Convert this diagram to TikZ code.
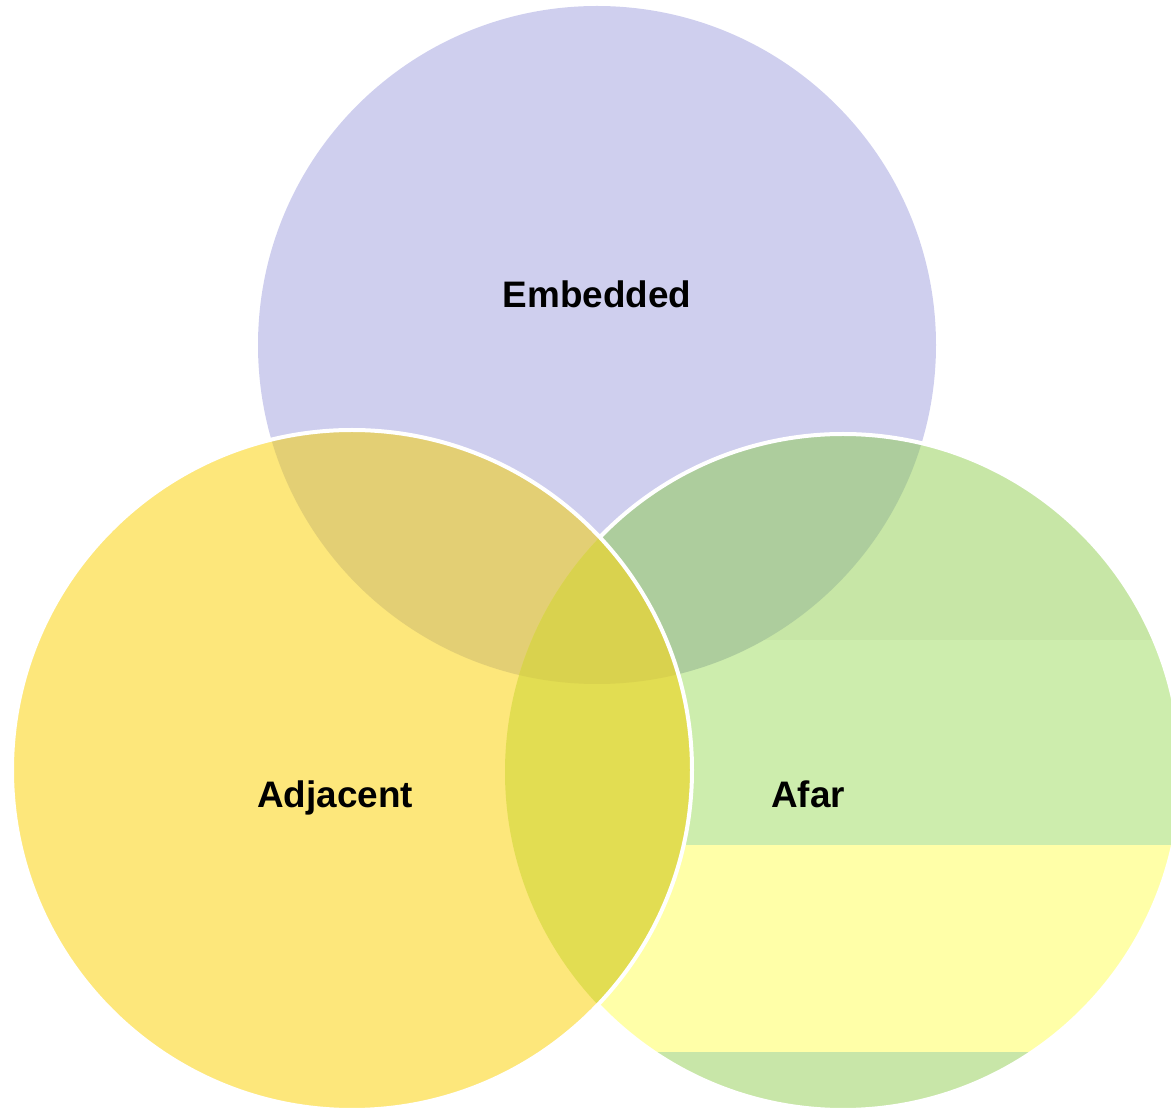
\documentclass[tikz,border=0pt]{standalone}
\usepackage{fontspec}
\setmainfont{Liberation Sans}
\usepackage{tikz}
\usetikzlibrary{positioning}

\definecolor{embfill}{HTML}{CFCFEE}
\definecolor{adjfill}{HTML}{FDE77B}
\definecolor{afartop}{HTML}{C7E6A6}
\definecolor{afarmid}{HTML}{CDEDAD}
\definecolor{afarband}{HTML}{FFFFA8}
\definecolor{afarlow}{HTML}{C8E6A8}
\definecolor{embadj}{HTML}{E3CF74}
\definecolor{embafar}{HTML}{ADCD9D}
\definecolor{adjafar}{HTML}{E2DD52}
\definecolor{allthree}{HTML}{D9D24E}

\begin{document}
\begin{tikzpicture}[x=0.02cm, y=0.02cm, label/.style={font=\fontsize{21}{25}\selectfont\bfseries, anchor=base, inner sep=0pt}, rim/.style={draw=white, line width=0.08cm}]
    \useasboundingbox (0,0) rectangle (1171,1110);

    %Centres
    \coordinate (emb) at (597,765);
    \coordinate (adj) at (352,340);
    \coordinate (afar) at (843,338);

    %Circles
    \fill[embfill] (emb) circle[radius=339];
    \begin{scope}
        \clip (afar) circle[radius=338];
        \fill[afarlow] (480,0) rectangle (1200,58);
        \fill[afarband] (480,58) rectangle (1200,265);
        \fill[afarmid] (480,265) rectangle (1200,470);
        \fill[afartop] (480,470) rectangle (1200,700);
        \clip (emb) circle[radius=339];
        \fill[embafar] (480,300) rectangle (1200,700);
    \end{scope}
    \draw[rim] (afar) circle[radius=338];
    \fill[adjfill] (adj) circle[radius=340];
    \begin{scope}
        \clip (adj) circle[radius=340];
        \fill[embadj] (emb) circle[radius=339];
        \fill[adjafar] (afar) circle[radius=338];
        \clip (emb) circle[radius=339];
        \fill[allthree] (afar) circle[radius=338];
    \end{scope}
    \draw[rim] (adj) circle[radius=340];

    %Labels
    \node[label] (embtext) at (597,802) {Embedded};
    \node[label] (adjtext) at (335,302) {Adjacent};
    \node[label] (afartext) at (808,302) {Afar};

\end{tikzpicture}
\end{document}
